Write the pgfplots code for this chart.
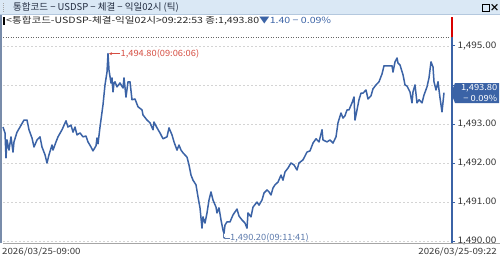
\documentclass[border=0pt]{standalone}
\usepackage{fontspec}
\setmainfont{Noto Sans CJK KR}
\newfontfamily\infofont{Noto Sans CJK KR}[FakeStretch=1.23]
\newfontfamily\titlefont{Noto Sans CJK KR}
\newfontfamily\tickfont{Noto Sans CJK KR}[FakeStretch=1.11]
\newfontfamily\annofont{Noto Sans CJK KR}[FakeStretch=1.08]
\newfontfamily\xlabfont{Noto Sans CJK KR}[FakeStretch=1.13]
\usepackage{pgfplots}
\pgfplotsset{compat=1.18}
\usetikzlibrary{arrows.meta}
\definecolor{lineblue}{RGB}{59,99,166}
\definecolor{titlebg}{RGB}{218,232,245}
\definecolor{titleborder}{RGB}{180,200,222}
\definecolor{titletext}{RGB}{35,45,65}
\definecolor{annored}{RGB}{214,78,66}
\definecolor{annoblue}{RGB}{92,122,172}
\definecolor{gridc}{RGB}{212,212,212}
\definecolor{ticktext}{RGB}{55,55,55}
\definecolor{sideline}{RGB}{120,140,170}
\pgfplotstableread{
x v
3 1492.92
5 1492.77
6 1492.13
7 1492.59
9 1492.33
11 1492.67
13 1492.28
14 1492.54
17 1492.79
20 1492.92
24 1493.10
27 1493.10
29 1492.85
32 1492.64
34 1492.41
37 1492.59
40 1492.67
42 1492.41
45 1492.21
47 1492.00
49 1492.21
52 1492.46
53 1492.33
56 1492.54
58 1492.67
62 1492.85
66 1493.08
68 1492.92
71 1492.97
73 1492.79
75 1492.92
77 1492.72
80 1492.77
83 1492.67
86 1492.69
88 1492.54
91 1492.41
93 1492.31
96 1492.44
97 1492.64
98 1492.49
100 1492.92
103 1493.49
105 1494.00
107 1494.33
108 1494.80
109 1494.38
111 1494.05
112 1494.18
113 1493.82
114 1494.05
115 1494.08
117 1493.95
120 1494.05
123 1493.92
124 1494.18
126 1493.69
128 1494.08
130 1494.08
132 1493.62
135 1493.64
138 1493.44
142 1493.36
143 1493.23
147 1493.10
150 1493.03
153 1492.85
154 1493.05
157 1492.90
160 1492.77
163 1492.62
167 1492.67
169 1492.90
172 1492.72
174 1492.54
177 1492.33
179 1492.46
181 1492.33
183 1492.26
187 1492.15
189 1491.95
191 1491.69
193 1491.56
196 1491.44
198 1491.13
200 1490.85
202 1490.33
203 1490.62
205 1490.46
207 1490.72
209 1491.05
211 1491.26
213 1491.05
216 1490.87
217 1490.72
219 1490.85
221 1490.54
223 1490.28
224 1490.20
225 1490.41
227 1490.49
230 1490.49
233 1490.67
237 1490.82
239 1490.64
242 1490.54
245 1490.46
247 1490.33
248 1490.72
251 1490.62
253 1490.87
257 1491.00
259 1490.92
262 1491.05
264 1491.23
267 1491.31
269 1491.26
271 1491.18
273 1491.36
275 1491.44
278 1491.51
281 1491.69
283 1491.56
285 1491.77
288 1491.87
291 1492.00
294 1491.95
297 1491.82
299 1492.00
303 1492.08
307 1492.28
310 1492.31
313 1492.51
316 1492.62
319 1492.54
322 1492.85
323 1492.59
327 1492.54
330 1492.59
333 1492.51
336 1492.67
338 1493.03
341 1493.28
343 1493.15
345 1493.21
347 1493.36
349 1493.36
352 1493.54
354 1493.69
355 1493.10
357 1493.36
359 1493.62
361 1493.79
363 1493.79
366 1493.87
368 1493.64
371 1493.72
373 1493.90
376 1494.00
379 1494.08
382 1494.28
384 1494.49
388 1494.49
392 1494.49
393 1494.33
395 1494.59
397 1494.69
398 1494.56
400 1494.51
403 1494.26
405 1494.00
407 1493.97
410 1493.82
412 1493.54
413 1493.82
415 1494.00
417 1493.54
419 1493.62
422 1493.54
424 1493.74
427 1493.95
429 1494.18
431 1494.59
433 1494.46
434 1494.08
436 1493.87
438 1494.08
440 1493.67
442 1493.31
444 1493.80
}\ticks
\begin{document}
\begin{tikzpicture}[x=1pt,y=1pt]
\path[use as bounding box] (0,0) rectangle (500,258);
\fill[white] (0,0) rectangle (500,258);
% title bar
\fill[titlebg] (0,243) rectangle (500,258);
\draw[titleborder, line width=0.8pt] (0,243.2) -- (500,243.2);
\foreach \yy in {246,248,250,252,254} {\fill[gray!70] (3,\yy) rectangle (4,\yy+0.8);}
\node[anchor=west, inner sep=0pt, font=\titlefont\fontsize{9.5}{10}\selectfont, text=titletext] at (13,250.5) {통합코드 − USDSP − 체결 − 익일02시 (틱)};
\draw[black, line width=0.8pt] (482,246.5) rectangle (489,253.5);
\node[inner sep=0pt, font=\fontsize{10}{10}\selectfont\bfseries] at (494.5,250.3) {×};
% left panel border
\draw[sideline, line width=2pt] (1,15) -- (1,243);
% info line
\fill[black] (2.5,233) rectangle (4.5,241);
\node[anchor=west, inner sep=0pt, font=\infofont\fontsize{8.6}{9}\selectfont, text=black!85] at (6,237) {<통합코드-USDSP-체결-익일02시>09:22:53 종:1,493.80};
\node[anchor=west, inner sep=0pt, font=\infofont\fontsize{8.6}{9}\selectfont, text=lineblue] at (259,237) {▼1.40 − 0.09\%};
\begin{axis}[
  at={(3pt,15pt)}, anchor=south west, scale only axis,
  width=449pt, height=226pt,
  xmin=3, xmax=452, ymin=1489.95, ymax=1495.74,
  axis x line=none,
  axis y line*=right,
  y axis line style={draw=lineblue, line width=1.6pt},
  ytick={1490,1491,1492,1493,1494,1495},
  yticklabels={{1,490.00},{1,491.00},{1,492.00},{1,493.00},{},{1,495.00}},
  ytick style={draw=lineblue, line width=0.8pt},
  tick align=outside,
  major tick length=3pt,
  yticklabel style={font=\tickfont\fontsize{9}{9}\selectfont, text=ticktext, anchor=west, xshift=-1pt},
  /pgf/number format/assume math mode=true,
  ymajorgrids, grid style={gridc, dash pattern=on 2pt off 2pt, line width=0.6pt},
  clip=false,
]
\draw[black!60, dash pattern=on 1pt off 1.5pt, line width=0.7pt] (axis cs:3,1495.23) -- (axis cs:451,1495.23);
\addplot[lineblue, line width=1.5pt, line join=round] table[x=x, y=v] {\ticks};
\draw[red!85!black, line width=1.6pt] (axis cs:452,1495.23) -- (axis cs:452,1495.74);
\draw[annored, line width=0.6pt, -{Stealth[length=3pt,width=3pt]}] (axis cs:120,1494.80) -- (axis cs:109,1494.80);
\node[anchor=west, inner sep=0.5pt, font=\annofont\fontsize{8.6}{9}\selectfont, text=annored] at (axis cs:120,1494.80) {1,494.80(09:06:06)};
\draw[annoblue, line width=0.6pt] (axis cs:223.5,1490.20) -- (axis cs:223.5,1490.08);
\draw[annoblue, line width=0.6pt, -{Stealth[length=2.5pt,width=2.5pt]}] (axis cs:230,1490.08) -- (axis cs:223,1490.08);
\node[anchor=west, inner sep=0.5pt, font=\annofont\fontsize{8.6}{9}\selectfont, text=annoblue] at (axis cs:229.5,1490.08) {1,490.20(09:11:41)};
\end{axis}
% bottom rule
\draw[gray!70, line width=1pt] (3,15) -- (500,15);
% current value tag
\fill[lineblue] (455,175) -- (499,175) -- (499,155) -- (455,155) -- (451,165) -- cycle;
\node[anchor=east, inner sep=0pt, font=\tickfont\fontsize{8.4}{9}\selectfont, text=white] at (497.5,170) {1,493.80};
\node[anchor=east, inner sep=0pt, font=\tickfont\fontsize{8.4}{9}\selectfont, text=white] at (497.5,160) {− 0.09\%};
% x labels
\node[anchor=west, inner sep=0pt, font=\xlabfont\fontsize{8.6}{9}\selectfont, text=ticktext] at (2,6) {2026/03/25-09:00};
\node[anchor=east, inner sep=0pt, font=\xlabfont\fontsize{8.6}{9}\selectfont, text=ticktext] at (497,6) {2026/03/25-09:22};
\end{tikzpicture}
\end{document}
